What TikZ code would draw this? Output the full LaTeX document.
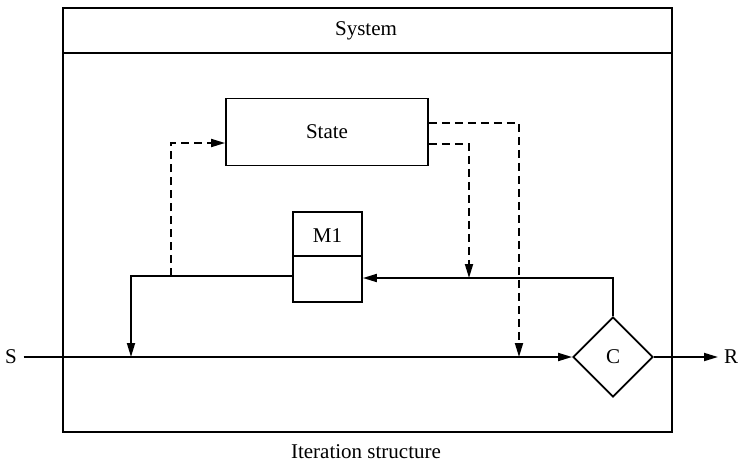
\documentclass[tikz,border=0pt]{standalone}
\usepackage{fontspec}
\setmainfont{Liberation Serif}
\usetikzlibrary{arrows.meta,shapes.geometric}
\begin{document}
\begin{tikzpicture}[x=1pt,y=-1pt,
  line width=1.8pt,
  lbl/.style={font=\fontsize{21}{24}\selectfont, inner sep=0pt},
  boxnode/.style={draw, rectangle, inner sep=0pt},
  tip/.style={-{Triangle[length=14pt,width=8pt]}},
  dsh/.style={dash pattern=on 8pt off 5pt},
]
\useasboundingbox (0,0) rectangle (739,466);
% outer frame
\draw (63,8) rectangle (672,432);
\draw (63,53) -- (672,53);
\node[lbl] (sys) at (366,31) {System};
\node[lbl] (cap) at (366,452) {Iteration structure};
% state
\node[boxnode, minimum width=202pt, minimum height=67pt] (state) at (327,132) {};
\node[lbl] (statet) at (state.center) {State};
% M1
\node[boxnode, minimum width=69pt, minimum height=90pt] (m1) at (327.5,257) {};
\coordinate (m1div) at (0,256);
\draw (m1.west |- m1div) -- (m1.east |- m1div);
\node[lbl] (m1t) at (327.5,236) {M1};
% C
\node[draw, diamond, minimum width=80pt, minimum height=80pt, inner sep=0pt, lbl] (c) at (613,357) {C};
% S and R
\node[lbl] (s) at (11,357) {S};
\node[lbl] (r) at (731,357) {R};
\coordinate (rend) at (718,357);
% coordinates
\coordinate (fb) at (0,278);
\coordinate (lft) at (0,276);
\coordinate (jL) at (131,357);
\coordinate (dL) at (171,276);
\coordinate (d1) at (0,143);
\coordinate (sr1) at (0,144);
\coordinate (sr2) at (0,123);
\coordinate (jD1) at (469,278);
\coordinate (jD2) at (519,357);
% main line
\draw[tip] (s.east) ++(6pt,0) -- (c.west);
\draw[tip] (c.east) -- (rend);
% feedback
\draw[tip] (c.north) |- (m1.east |- fb);
\draw[tip] (m1.west |- lft) -| (jL);
% dashed
\draw[dsh, tip] (dL) |- (state.west |- d1);
\draw[dsh, tip] (state.east |- sr1) -| (jD1);
\draw[dsh, tip] (state.east |- sr2) -| (jD2);
\end{tikzpicture}
\end{document}
